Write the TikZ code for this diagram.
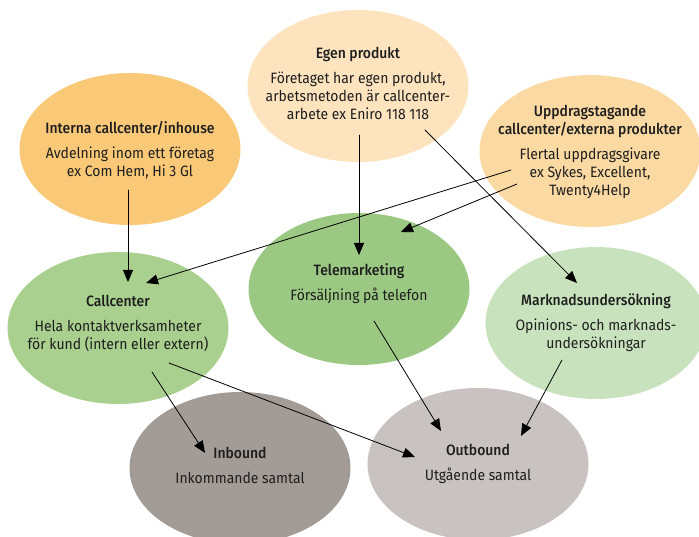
\documentclass[tikz,border=0pt]{standalone}
\usepackage{fontspec}
\setmainfont{Fira Sans}[FakeStretch=0.93,BoldFont={Fira Sans Medium},BoldFeatures={FakeStretch=0.93}]
\usepackage{tikz}
\usetikzlibrary{arrows.meta,shapes.geometric}
\definecolor{egenc}{HTML}{FDE4BE}
\definecolor{internc}{HTML}{F9C978}
\definecolor{uppdrc}{HTML}{FBD9A2}
\definecolor{callc}{HTML}{A9D08E}
\definecolor{telec}{HTML}{9BC883}
\definecolor{marknc}{HTML}{C9E2BE}
\definecolor{inbc}{HTML}{A39B96}
\definecolor{outbc}{HTML}{C8C3C1}
\definecolor{txtc}{HTML}{1E1E1E}

\begin{document}
\begin{tikzpicture}[x=1pt,y=-1pt,line cap=round,line join=round,
  bubble/.style={ellipse,draw=none,inner sep=0pt,minimum width=221pt,minimum height=152pt},
  txt/.style={align=center,text=txtc,font=\fontsize{15}{18}\selectfont},
  arr/.style={-{Triangle[length=12pt,width=10pt]},line width=0.8pt,color=black}]
      \useasboundingbox (0,0) rectangle (699,537);
      \clip (0,0) rectangle (699,537);
      % bubbles
      \node[bubble,fill=egenc] (egen) at (358,86) {};
      \node[bubble,fill=internc] (interna) at (130,149) {};
      \node[bubble,fill=uppdrc] (uppdrag) at (590,151) {};
      \node[bubble,fill=callc] (callcenter) at (118,328) {};
      \node[bubble,fill=telec] (tele) at (359,289) {};
      \node[bubble,fill=marknc] (marknad) at (596,323) {};
      \node[bubble,fill=inbc] (inbound) at (240,468) {};
      \node[bubble,fill=outbc] (outbound) at (478,464) {};
      % texts
      \node[txt] (egen-t) at (358,83) {\textbf{Egen produkt}\\[7pt]F\"oretaget har egen produkt,\\arbetsmetoden \"ar callcenter-\\arbete ex Eniro 118 118};
      \node[txt] (interna-t) at (130,150) {\textbf{Interna callcenter/inhouse}\\[7pt]Avdelning inom ett f\"oretag\\ex Com Hem, Hi 3 Gl};
      \node[txt] (uppdrag-t) at (590,152) {\textbf{Uppdragstagande}\\\textbf{callcenter/externa produkter}\\[7pt]Flertal uppdragsgivare\\ex Sykes, Excellent,\\Twenty4Help};
      \node[txt] (callcenter-t) at (118,323) {\textbf{Callcenter}\\[7pt]Hela kontaktverksamheter\\f\"or kund (intern eller extern)};
      \node[txt] (tele-t) at (359,284) {\textbf{Telemarketing}\\[7pt]F\"ors\"aljning p\r{a} telefon};
      \node[txt] (marknad-t) at (596,323) {\textbf{Marknadsunders\"okning}\\[7pt]Opinions- och marknads-\\unders\"okningar};
      \node[txt] (inbound-t) at (240,465) {\textbf{Inbound}\\[7pt]Inkommande samtal};
      \node[txt] (outbound-t) at (478,464) {\textbf{Outbound}\\[7pt]Utg\r{a}ende samtal};
      % connectors
      \draw[arr] ([shift={(-2,41)}]interna.center) -- ([shift={(10,-46)}]callcenter.center);
      \draw[arr] ([shift={(1,49)}]egen.center) -- ([shift={(0,-34)}]tele.center);
      \draw[arr] ([shift={(67,44)}]egen.center) -- ([shift={(-19,-40)}]marknad.center);
      \draw[arr] ([shift={(-79,19)}]uppdrag.center) -- ([shift={(28,-45)}]callcenter.center);
      \draw[arr] ([shift={(-73,33)}]uppdrag.center) -- ([shift={(42,-57)}]tele.center);
      \draw[arr] ([shift={(34,44)}]callcenter.center) -- ([shift={(-35,-15)}]inbound.center);
      \draw[arr] ([shift={(51,35)}]callcenter.center) -- ([shift={(-63,-7)}]outbound.center);
      \draw[arr] ([shift={(15,32)}]tele.center) -- ([shift={(-37,-33)}]outbound.center);
      \draw[arr] ([shift={(-34,37)}]marknad.center) -- ([shift={(43,-28)}]outbound.center);
\end{tikzpicture}
\end{document}
